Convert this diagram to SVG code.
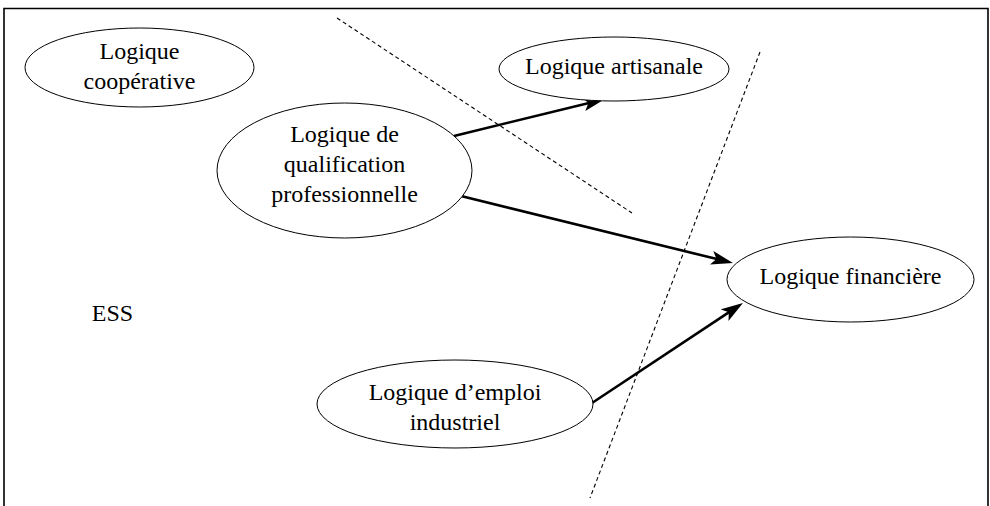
<svg xmlns="http://www.w3.org/2000/svg" width="990" height="506" viewBox="0 0 990 506">
<style>
.node{fill:#fff;stroke:#000;stroke-width:1}
.t{font-family:"Liberation Serif","Times New Roman",serif;font-size:24px;fill:#000;text-anchor:middle}
.arrow{stroke:#000;stroke-width:2.6;fill:none;marker-end:url(#ah)}
.dash{stroke:#000;stroke-width:1.1;fill:none;stroke-dasharray:4 3}
</style>
<defs>
<marker id="ah" viewBox="0 0 22 14" refX="14" refY="7" markerWidth="22" markerHeight="14" orient="auto" markerUnits="userSpaceOnUse">
<path d="M0,0 L22,7 L0,14 L5,7 z" fill="#000"/>
</marker>
</defs>
<rect width="990" height="506" fill="#fff"/>
<path d="M4,506 L4,8.5 L988,8.5 L988,506" fill="none" stroke="#000" stroke-width="1.6"/>
<g id="connectors">
<line class="dash" x1="337" y1="18" x2="632" y2="213"/>
<line class="dash" x1="760" y1="52" x2="590" y2="498"/>
<line class="arrow" x1="454" y1="136" x2="597.2" y2="100.9"/>
<line class="arrow" x1="461" y1="196" x2="725.2" y2="261.1"/>
<line class="arrow" x1="592" y1="403" x2="736.3" y2="307.4"/>
</g>
<g id="cooperative">
<ellipse class="node" cx="139.5" cy="67.5" rx="114.5" ry="39.5"/>
<text class="t" x="139.5" y="59">Logique</text>
<text class="t" x="139.5" y="89">coopérative</text>
</g>
<g id="qualification">
<ellipse class="node" cx="344.5" cy="170.5" rx="127.5" ry="67.5"/>
<text class="t" x="344.5" y="142">Logique de</text>
<text class="t" x="344.5" y="172">qualification</text>
<text class="t" x="344.5" y="202">professionnelle</text>
</g>
<g id="artisanale">
<ellipse class="node" cx="614" cy="69" rx="115" ry="32"/>
<text class="t" x="614" y="74">Logique artisanale</text>
</g>
<g id="financiere">
<ellipse class="node" cx="850.5" cy="279.5" rx="123.5" ry="42.5"/>
<text class="t" x="850.5" y="284">Logique financière</text>
</g>
<g id="emploi">
<ellipse class="node" cx="455" cy="404" rx="138" ry="44"/>
<text class="t" x="455" y="400">Logique d’emploi</text>
<text class="t" x="455" y="430">industriel</text>
</g>
<g id="ess">
<text class="t" x="112.5" y="321">ESS</text>
</g>
</svg>
